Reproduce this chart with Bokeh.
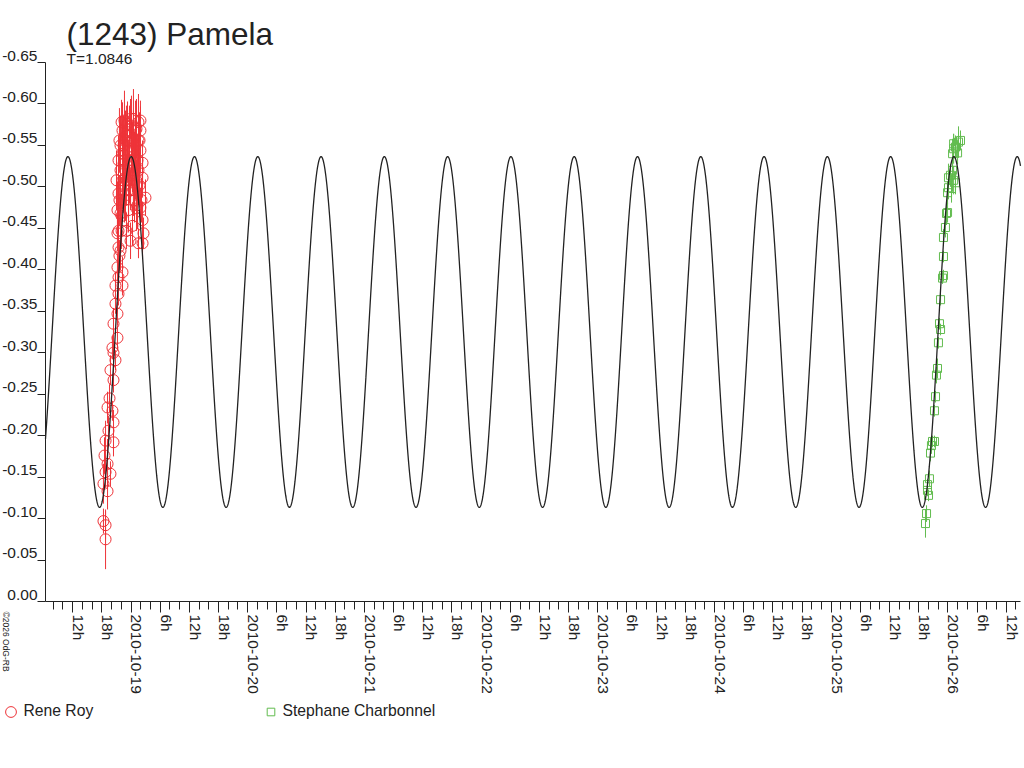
import math
import numpy as np
from bokeh.plotting import figure
from bokeh.models import (ColumnDataSource, Range1d, FixedTicker, LinearAxis,
                          Label, Legend, LegendItem)
from bokeh.embed import file_html
from bokeh.resources import INLINE

TITLE = "(1243) Pamela"
SUBTITLE = "T=1.0846"
COPYRIGHT = "\u00a92026 OdG-RB"
ROY_NAME = "Rene Roy"
CHARB_NAME = "Stephane Charbonnel"

# Rene Roy: time (day of October 2010, UT), relative magnitude, error
roy_time = [18.782, 18.782, 18.764, 18.799, 18.764, 18.782, 18.824, 18.799, 18.773, 18.850,
            18.782, 18.807, 18.850, 18.841, 18.799, 18.816, 18.850, 18.824, 18.867, 18.850,
            18.841, 18.884, 18.850, 18.884, 18.867, 18.893, 18.867, 18.927, 18.893, 18.927,
            18.884, 18.893, 18.884, 18.910, 18.893, 18.910, 18.927, 18.936, 18.953, 18.970,
            18.987, 19.004, 19.021, 19.039, 18.979, 19.013, 18.961, 19.030, 19.047, 18.996,
            18.944, 19.064, 19.081, 19.064, 19.081, 19.099, 19.099, 19.124, 19.081, 19.099,
            19.107, 19.064, 19.099, 19.047, 19.013, 18.919, 18.901, 18.910, 18.927, 18.944,
            18.893, 18.901, 18.919, 18.936, 18.953, 18.970, 18.987, 19.004, 19.021, 19.039,
            19.056, 19.073, 19.030, 18.979, 18.961, 18.996, 18.876, 18.884, 18.901, 18.919,
            18.936, 18.953, 18.970, 18.987, 19.004, 19.021, 19.039, 19.056, 19.073, 19.090,
            18.893, 18.910, 18.927, 18.944, 18.961, 18.979, 18.996, 19.013, 19.030, 19.047,
            19.064, 19.081]
roy_mag = [-0.075, -0.092, -0.097, -0.133, -0.142, -0.156, -0.154, -0.166, -0.176, -0.192,
           -0.194, -0.206, -0.216, -0.230, -0.234, -0.245, -0.267, -0.279, -0.291, -0.300,
           -0.306, -0.318, -0.335, -0.347, -0.359, -0.371, -0.381, -0.381, -0.391, -0.397,
           -0.403, -0.427, -0.444, -0.468, -0.492, -0.520, -0.540, -0.528, -0.556, -0.566,
           -0.544, -0.574, -0.558, -0.550, -0.526, -0.520, -0.508, -0.538, -0.570, -0.496,
           -0.484, -0.578, -0.568, -0.556, -0.544, -0.529, -0.511, -0.487, -0.475, -0.460,
           -0.444, -0.432, -0.432, -0.474, -0.453, -0.447, -0.417, -0.550, -0.568, -0.580,
           -0.532, -0.484, -0.465, -0.502, -0.520, -0.544, -0.562, -0.532, -0.582, -0.514,
           -0.532, -0.502, -0.484, -0.472, -0.447, -0.435, -0.508, -0.472, -0.556, -0.578,
           -0.550, -0.490, -0.576, -0.514, -0.556, -0.496, -0.568, -0.478, -0.556, -0.484,
           -0.447, -0.423, -0.508, -0.532, -0.562, -0.496, -0.582, -0.544, -0.526, -0.502,
           -0.520, -0.580]
roy_err = [0.036, 0.017, 0.015, 0.022, 0.024, 0.019, 0.015, 0.030, 0.022, 0.017,
           0.024, 0.018, 0.015, 0.012, 0.019, 0.017, 0.015, 0.018, 0.012, 0.017,
           0.014, 0.015, 0.019, 0.014, 0.012, 0.014, 0.017, 0.012, 0.015, 0.019,
           0.017, 0.024, 0.022, 0.024, 0.027, 0.030, 0.034, 0.029, 0.036, 0.034,
           0.030, 0.036, 0.034, 0.030, 0.029, 0.027, 0.030, 0.029, 0.036, 0.024,
           0.027, 0.034, 0.029, 0.031, 0.027, 0.027, 0.024, 0.022, 0.024, 0.022,
           0.019, 0.018, 0.017, 0.027, 0.024, 0.022, 0.019, 0.036, 0.034, 0.036,
           0.030, 0.030, 0.027, 0.030, 0.034, 0.036, 0.036, 0.030, 0.036, 0.029,
           0.031, 0.027, 0.027, 0.027, 0.022, 0.022, 0.036, 0.034, 0.039, 0.027,
           0.036, 0.031, 0.027, 0.034, 0.036, 0.031, 0.036, 0.029, 0.034, 0.027,
           0.029, 0.024, 0.034, 0.036, 0.036, 0.031, 0.024, 0.034, 0.034, 0.031,
           0.034, 0.024]

# Stephane Charbonnel
charb_time = [25.808, 25.817, 25.834, 25.825, 25.842, 25.825, 25.851, 25.868, 25.885, 25.859,
              25.885, 25.894, 25.902, 25.911, 25.919, 25.937, 25.928, 25.937, 25.954, 25.962,
              25.962, 25.962, 25.979, 25.988, 25.997, 25.997, 26.005, 26.005, 26.022, 26.031,
              26.040, 26.049, 26.065, 26.040, 26.049, 26.083, 26.065, 26.091, 26.108, 26.049]
charb_mag = [-0.094, -0.106, -0.128, -0.134, -0.148, -0.141, -0.179, -0.193, -0.193, -0.188,
             -0.230, -0.247, -0.273, -0.281, -0.312, -0.328, -0.335, -0.364, -0.390, -0.393,
             -0.416, -0.439, -0.451, -0.468, -0.469, -0.493, -0.499, -0.511, -0.514, -0.498,
             -0.520, -0.508, -0.505, -0.540, -0.546, -0.541, -0.548, -0.554, -0.556, -0.552]
charb_err = [0.017, 0.010, 0.007, 0.007, 0.010, 0.007, 0.010, 0.007, 0.007, 0.010,
             0.007, 0.007, 0.010, 0.012, 0.007, 0.007, 0.007, 0.007, 0.007, 0.007,
             0.007, 0.010, 0.012, 0.014, 0.012, 0.014, 0.014, 0.017, 0.014, 0.017,
             0.017, 0.017, 0.014, 0.018, 0.018, 0.014, 0.014, 0.019, 0.012, 0.012]

# Fourier model of the lightcurve (two maxima per rotation period)
period_days = 1.0846
model_mean = -0.325
model_amp = -0.2115
model_epoch = 19.0018

# x axis: major ticks every 6 h starting 2010-10-18 12h, minor every 2 h
x_tick_labels = ["12h", "18h",
                 "2010-10-19", "6h", "12h", "18h",
                 "2010-10-20", "6h", "12h", "18h",
                 "2010-10-21", "6h", "12h", "18h",
                 "2010-10-22", "6h", "12h", "18h",
                 "2010-10-23", "6h", "12h", "18h",
                 "2010-10-24", "6h", "12h", "18h",
                 "2010-10-25", "6h", "12h", "18h",
                 "2010-10-26", "6h", "12h"]
x_tick_first = 18.5
x_tick_step = 0.25
x_minor_step = 1.0 / 12.0

y_tick_values = [0.0, -0.05, -0.10, -0.15, -0.20, -0.25, -0.30, -0.35,
                 -0.40, -0.45, -0.50, -0.55, -0.60, -0.65]
y_tick_labels = ["0.00", "-0.05", "-0.10", "-0.15", "-0.20", "-0.25", "-0.30", "-0.35",
                 "-0.40", "-0.45", "-0.50", "-0.55", "-0.60", "-0.65"]

# ---------------------------------------------------------------- layout / styling
FONT = "Liberation Sans"
INK = "#222222"
RED = "#EE3338"
GREEN = "#62BC4F"

W, H = 1024, 760
PX_PER_DAY = 116.7       # horizontal scale
DAY19_PX = 130.5         # canvas x of 2010-10-19 00:00
PX_PER_MAG = 829.23      # vertical scale
ZERO_PX = 601.0          # canvas y of magnitude 0.00
AXIS_LEFT_PX = 45.0
AXIS_RIGHT_PX = 1020.0


def xdata(px):
    return 19.0 + (px - DAY19_PX) / PX_PER_DAY


def ydata(py):
    return -(ZERO_PX - py) / PX_PER_MAG


p = figure(width=W, height=H, output_backend="svg", toolbar_location=None,
           x_range=Range1d(xdata(0), xdata(W)), y_range=Range1d(ydata(H), ydata(0)),
           min_border_left=0, min_border_right=0, min_border_top=0, min_border_bottom=0)
p.outline_line_color = None
p.grid.visible = False
p.background_fill_color = "white"
p.border_fill_color = "white"

y_axis_x = xdata(AXIS_LEFT_PX)

# ---- x axis: ticks
major_x = [x_tick_first + i * x_tick_step for i in range(len(x_tick_labels))]
minor_x = [18.0 + k * x_minor_step for k in range(4, 104)]
xa = p.xaxis[0]
xa.fixed_location = 0.0
xa.bounds = (xdata(AXIS_LEFT_PX), xdata(AXIS_RIGHT_PX))
xa.ticker = FixedTicker(ticks=major_x, minor_ticks=minor_x)
xa.major_tick_out = 11
xa.major_tick_in = 0
xa.minor_tick_out = 8
xa.minor_tick_in = 0
xa.major_label_text_font_size = "0px"
xa.major_label_text_color = None
xa.major_label_standoff = 0
xa.axis_line_color = INK
xa.major_tick_line_color = INK
xa.minor_tick_line_color = INK

# ---- x axis: labels (drawn just right of each tick)
x_shift = 13.0 / 256.0
lab_x = [m + x_shift for m in major_x]
xb = LinearAxis(ticker=FixedTicker(ticks=lab_x, minor_ticks=[]),
                fixed_location=0.0,
                major_label_overrides={k: s for k, s in zip(lab_x, x_tick_labels)},
                major_label_orientation=-math.pi / 2,
                major_tick_out=0, major_tick_in=0, minor_tick_out=0, minor_tick_in=0,
                axis_line_color=None, major_tick_line_color=None, minor_tick_line_color=None,
                major_label_standoff=13, major_label_text_font=FONT,
                major_label_text_font_size="15.5px", major_label_text_color=INK)
p.add_layout(xb, "below")

# ---- y axis: ticks
ya = p.yaxis[0]
ya.fixed_location = y_axis_x
ya.ticker = FixedTicker(ticks=y_tick_values, minor_ticks=[])
ya.bounds = (-0.65, 0.0)
ya.major_tick_out = 8
ya.major_tick_in = 0
ya.minor_tick_out = 0
ya.minor_tick_in = 0
ya.major_label_text_font_size = "0px"
ya.major_label_text_color = None
ya.major_label_standoff = 0
ya.axis_line_color = INK
ya.major_tick_line_color = INK

# ---- y axis: labels (sitting on the tick line)
y_shift = -7.0 / PX_PER_MAG
lab_y = [v + y_shift for v in y_tick_values]
yb = LinearAxis(ticker=FixedTicker(ticks=lab_y, minor_ticks=[]),
                fixed_location=y_axis_x,
                major_label_overrides={k: s for k, s in zip(lab_y, y_tick_labels)},
                major_tick_out=0, major_tick_in=0, minor_tick_out=0, minor_tick_in=0,
                axis_line_color=None, major_tick_line_color=None, minor_tick_line_color=None,
                major_label_standoff=8, major_label_text_font=FONT,
                major_label_text_font_size="15.5px", major_label_text_color=INK)
p.add_layout(yb, "left")

# ---- data
roy_src = ColumnDataSource(dict(
    t=roy_time, m=roy_mag,
    lo=[m - e for m, e in zip(roy_mag, roy_err)],
    hi=[m + e for m, e in zip(roy_mag, roy_err)]))
charb_src = ColumnDataSource(dict(
    t=charb_time, m=charb_mag,
    lo=[m - e for m, e in zip(charb_mag, charb_err)],
    hi=[m + e for m, e in zip(charb_mag, charb_err)]))

p.segment(x0="t", y0="lo", x1="t", y1="hi", source=roy_src, line_color=RED, line_width=1)
roy_pts = p.scatter(x="t", y="m", source=roy_src, marker="circle", size=11,
                    fill_color=None, line_color=RED, line_width=1)
p.segment(x0="t", y0="lo", x1="t", y1="hi", source=charb_src, line_color=GREEN, line_width=1)
charb_pts = p.scatter(x="t", y="m", source=charb_src, marker="square", size=8,
                      fill_color=None, line_color=GREEN, line_width=1)

# ---- model curve
mt = np.linspace(xdata(AXIS_LEFT_PX), xdata(AXIS_RIGHT_PX), 4000)
mm = model_mean + model_amp * np.cos(4.0 * np.pi * (mt - model_epoch) / period_days)
p.line(mt, mm, line_color=INK, line_width=1.3)

# ---- texts
p.add_layout(Label(x=xdata(66), y=ydata(33.3), text=TITLE, text_font=FONT,
                   text_font_size="31.5px", text_color=INK, text_baseline="alphabetic",
                   text_align="left"))
p.add_layout(Label(x=xdata(66), y=ydata(58.2), text=SUBTITLE, text_font=FONT,
                   text_font_size="15.5px", text_color=INK, text_baseline="alphabetic",
                   text_align="left"))
p.add_layout(Label(x=xdata(5), y=ydata(611), text=COPYRIGHT, text_font=FONT,
                   text_font_size="8.5px", text_color=INK, text_baseline="middle",
                   text_align="left", angle=-math.pi / 2))

# ---- legends (below the axis); location = offset of legend's bottom-left from canvas bottom-left
leg1 = Legend(items=[LegendItem(label=ROY_NAME, renderers=[roy_pts])],
              location=(10 - 13.5, H - (711 + 13.5)),
              glyph_width=27, glyph_height=27, label_height=27, label_standoff=-2,
              padding=0, margin=0, spacing=0, background_fill_alpha=0,
              border_line_color=None, label_text_font=FONT,
              label_text_font_size="15.7px", label_text_color=INK)
leg2 = Legend(items=[LegendItem(label=CHARB_NAME, renderers=[charb_pts])],
              location=(270 - 9.5, H - (711 + 9.5)),
              glyph_width=19, glyph_height=19, label_height=19, label_standoff=3,
              padding=0, margin=0, spacing=0, background_fill_alpha=0,
              border_line_color=None, label_text_font=FONT,
              label_text_font_size="15.7px", label_text_color=INK)
p.add_layout(leg1)
p.add_layout(leg2)

open("out.html", "w").write(file_html(p, INLINE))
